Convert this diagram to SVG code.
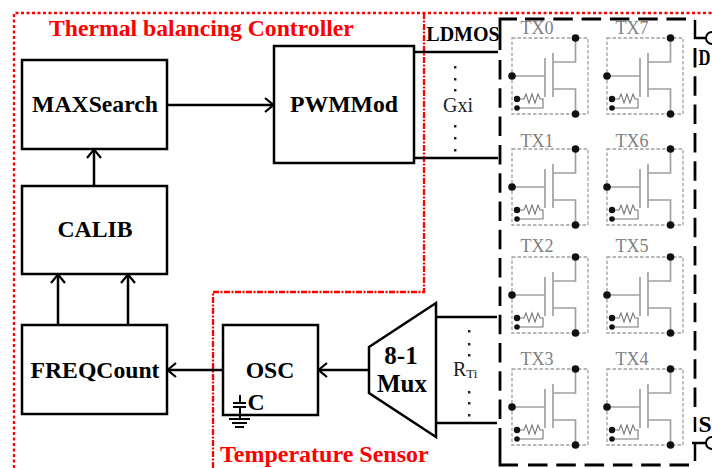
<svg xmlns="http://www.w3.org/2000/svg" width="712" height="468" viewBox="0 0 712 468">
<style>
.box{fill:#fff;stroke:#000;stroke-width:2.5}
.t{font-family:"Liberation Serif",serif;font-weight:bold;font-size:23.7px;fill:#000;text-anchor:middle}
.red{font-family:"Liberation Serif",serif;font-weight:bold;font-size:23.7px;fill:#f00}
.g{font-family:"Liberation Serif",serif;font-size:18px;fill:#808080;text-anchor:middle}
.n{font-family:"Liberation Serif",serif;font-size:20px;fill:#222;text-anchor:middle}
.w{fill:none;stroke:#000;stroke-width:2.5}
.rd{fill:none;stroke:#f00;stroke-width:2.3;stroke-dasharray:3 2.5}
.rd2{fill:none;stroke:#f00;stroke-width:2.3;stroke-dasharray:6 1.5 2 1.5}
.bd{fill:none;stroke:#000;stroke-width:2.8;stroke-dasharray:19.5 8.8}
.dot{fill:#111}
.gl{fill:none;stroke:#a0a0a0;stroke-width:1.7}
.gd{fill:none;stroke:#a0a0a0;stroke-width:1.3;stroke-dasharray:3.5 2}
.rs{fill:none;stroke:#777;stroke-width:1.1}
</style>
<defs>
<marker id="a" viewBox="0 0 12 16" refX="11" refY="8" markerWidth="12" markerHeight="16" markerUnits="userSpaceOnUse" orient="auto"><path d="M2 1 L10.5 8 L2 15" fill="none" stroke="#000" stroke-width="2.2"/></marker>
<g id="tx">
<rect class="gd" width="76" height="76"/>
<path class="gl" d="M0 38H33M33 20V59M41 15V59M41 24H63.5V0M41 51H63.5V76"/>
<path class="rs" d="M5 61H12L14 56 17 65 20 56 23 65 26 56 28 61H31V70H5"/>
<circle class="dot" cx="63.5" cy="0" r="3.8"/><circle class="dot" cx="63.5" cy="76" r="3.8"/><circle class="dot" cx="0" cy="38" r="3.8"/>
<circle class="dot" cx="5" cy="61" r="3.2"/><circle class="dot" cx="5" cy="70" r="2.8"/>
</g>
</defs>
<rect width="712" height="468" fill="#fff"/>
<g id="regions">
<path class="rd" d="M14 468V13H712"/>
<path class="rd2" d="M424 13V292H213V468"/>
<text class="red" x="49" y="36">Thermal balancing Controller</text>
<text class="red" x="220" y="462" style="font-size:24px">Temperature Sensor</text>
</g>
<g id="connectors">
<path class="w" d="M167 105H274" marker-end="url(#a)"/>
<path class="w" d="M94 186V149" marker-end="url(#a)"/>
<path class="w" d="M58 325V274" marker-end="url(#a)"/>
<path class="w" d="M128 325V274" marker-end="url(#a)"/>
<path class="w" d="M223 370H167" marker-end="url(#a)"/>
<path class="w" d="M369 370H318" marker-end="url(#a)"/>
<path class="w" d="M414 52H498M414 158H498M436 317H497M436 423H497"/>
</g>
<g id="MAXSearch"><rect class="box" x="22" y="60" width="145" height="89"/><text class="t" x="95" y="112">MAXSearch</text></g>
<g id="CALIB"><rect class="box" x="22" y="186" width="145" height="88"/><text class="t" x="95" y="237">CALIB</text></g>
<g id="FREQCount"><rect class="box" x="22" y="325" width="145" height="89"/><text class="t" x="95" y="378">FREQCount</text></g>
<g id="PWMMod"><rect class="box" x="274" y="46" width="140" height="117"/><text class="t" x="344" y="112">PWMMod</text></g>
<g id="OSC"><rect class="box" x="223" y="325" width="95" height="90"/><text class="t" x="270" y="378">OSC</text>
<path fill="none" stroke="#000" stroke-width="2" d="M240 395V403M233 403H246M233 407H246M240 407V419M229 419H250M232 423H247M235 427H244"/>
<text class="t" x="256" y="410">C</text></g>
<g id="Mux"><path class="box" d="M369 347L436 303V437L369 393Z"/>
<text class="t" x="401" y="364" style="font-size:25px">8-1</text><text class="t" x="402" y="392" style="font-size:25px">Mux</text></g>
<g id="labels">
<text class="t" x="463" y="41" style="font-size:20px">LDMOS</text>
<text class="n" x="458" y="112">Gxi</text>
<text x="453" y="376" style="font-family:'Liberation Serif',serif;font-size:20px;fill:#222">R<tspan font-size="13" dy="2">Ti</tspan></text>
<path fill="#222" d="M454 66h2.4v2.4h-2.4zM454 78h2.4v2.4h-2.4zM454 89h2.4v2.4h-2.4zM454 125h2.4v2.4h-2.4zM454 137h2.4v2.4h-2.4zM454 149h2.4v2.4h-2.4zM468 330h2.4v2.4h-2.4zM468 343h2.4v2.4h-2.4zM468 354h2.4v2.4h-2.4zM468 391h2.4v2.4h-2.4zM468 402h2.4v2.4h-2.4zM468 414h2.4v2.4h-2.4z"/>
</g>
<g id="LDMOS-array">
<path class="bd" d="M525 19H695M500 60V447M695 48V410M528 465H690"/>
<path class="w" style="stroke-width:2.8" d="M500 50V19H517M500 447V465H518"/>
<use href="#tx" x="512" y="38"/><use href="#tx" x="607" y="38"/>
<use href="#tx" x="512" y="149"/><use href="#tx" x="607" y="149"/>
<use href="#tx" x="512" y="257"/><use href="#tx" x="607" y="257"/>
<use href="#tx" x="512" y="369"/><use href="#tx" x="607" y="369"/>
<text class="g" x="537" y="34">TX0</text><text class="g" x="632" y="34">TX7</text>
<text class="g" x="537" y="147">TX1</text><text class="g" x="632" y="147">TX6</text>
<text class="g" x="537" y="252">TX2</text><text class="g" x="632" y="252">TX5</text>
<text class="g" x="537" y="365">TX3</text><text class="g" x="632" y="365">TX4</text>
</g>
<g id="terminal-D"><path class="w" d="M695 20V38H706"/><circle cx="712" cy="38" r="6" fill="#fff" stroke="#000" stroke-width="2"/><text class="t" transform="translate(698.5 65) scale(.7 1)" style="text-anchor:start">D</text></g>
<g id="terminal-S"><path class="w" d="M692 443H706M695 417V432M695 442V461"/><circle cx="712" cy="443" r="6" fill="#fff" stroke="#000" stroke-width="2"/><text class="t" x="698.5" y="432" style="text-anchor:start">S</text></g>
</svg>
